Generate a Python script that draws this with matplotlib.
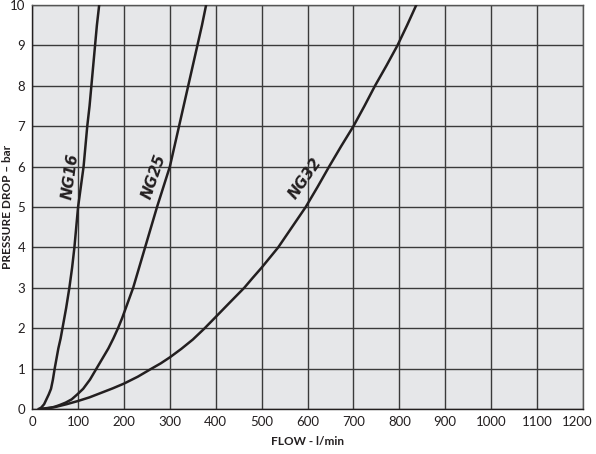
import matplotlib
matplotlib.use('Agg')
import matplotlib.pyplot as plt
import matplotlib.transforms as mtransforms
import numpy as np

plt.rcParams['font.family'] = ['Lato', 'DejaVu Sans']

# curves: flow (l/min) vs pressure drop (bar)
ng16_flow = [15, 20, 26, 31, 36, 41, 45, 49, 53, 57, 62, 66, 74, 81, 87, 92, 96, 100, 106, 112, 116, 120, 125, 129, 133, 137, 141, 146]
ng16_dp = [0, 0.04, 0.12, 0.24, 0.36, 0.5, 0.72, 1.0, 1.25, 1.5, 1.75, 2.0, 2.5, 3.0, 3.5, 4.0, 4.5, 5.0, 5.5, 6.0, 6.5, 7.0, 7.5, 8.0, 8.5, 9.0, 9.5, 10.0]

ng25_flow = [15, 28, 40, 50, 60, 73, 86, 98, 111, 126, 140, 153, 166, 177, 187, 196, 204, 212, 220, 233, 246, 259, 272, 286, 300, 310, 320, 330, 340, 350, 360, 370, 379]
ng25_dp = [0, 0.01, 0.03, 0.06, 0.1, 0.16, 0.24, 0.36, 0.5, 0.73, 1.0, 1.25, 1.5, 1.75, 2.0, 2.25, 2.5, 2.75, 3.0, 3.5, 4.0, 4.5, 5.0, 5.5, 6.0, 6.5, 7.0, 7.5, 8.0, 8.5, 9.0, 9.5, 10.0]

ng32_flow = [15, 30, 50, 75, 100, 125, 150, 175, 200, 230, 260, 280, 300, 325, 350, 375, 400, 430, 462, 480, 500, 536, 566, 596, 622, 647, 673, 700, 724, 747, 772, 796, 817, 837]
ng32_dp = [0, 0.02, 0.05, 0.12, 0.2, 0.29, 0.4, 0.51, 0.63, 0.8, 1.0, 1.13, 1.28, 1.49, 1.72, 1.99, 2.28, 2.63, 3.0, 3.24, 3.5, 4.0, 4.5, 5.0, 5.5, 6.0, 6.5, 7.0, 7.5, 8.0, 8.5, 9.0, 9.5, 10.0]

curve_names = ['NG16', 'NG25', 'NG32']
label_pos = [(84, 5.75), (265, 5.75), (595, 5.7)]
label_rot = [82, 71, 55]

fig = plt.figure(figsize=(5.96, 4.54), dpi=100)
ax = fig.add_axes([0.054, 0.099, 0.924, 0.890])
ax.set_facecolor('#e6e7e9')

line_col = '#231f20'
for fl, dp in [(ng16_flow, ng16_dp), (ng25_flow, ng25_dp), (ng32_flow, ng32_dp)]:
    ax.plot(fl, dp, color=line_col, lw=1.8, solid_joinstyle='round', zorder=3)

for name, (x, y), rot in zip(curve_names, label_pos, label_rot):
    ax.text(x, y, name, rotation=rot, ha='center', va='center', fontsize=11,
            fontweight='bold', fontstyle='oblique', color=line_col, zorder=4,
            family='DejaVu Sans')

ax.set_xlim(0, 1200)
ax.set_ylim(0, 10)
ax.set_xticks(np.arange(0, 1201, 100))
ax.set_yticks(np.arange(0, 11, 1))
ax.grid(True, color='#3a3a3a', lw=1.0)
ax.set_axisbelow(True)
ax.tick_params(length=0, labelsize=9.5, pad=5, colors='#231f20')
xl = ax.get_xticklabels()
xl[-1].set_transform(xl[-1].get_transform() +
                     mtransforms.ScaledTranslation(-4 / 72, 0, fig.dpi_scale_trans))
for s in ax.spines.values():
    s.set_color('#555555')
    s.set_linewidth(1.0)
ax.spines['bottom'].set_color('#231f20')
ax.spines['left'].set_color('#231f20')

ax.set_xlabel('FLOW - l/min', fontsize=8.5, fontweight='bold', color='#231f20', labelpad=6)
fig.text(8 / 596, 1 - 207 / 454, 'PRESSURE DROP – bar', rotation=90, ha='center', va='center',
         fontsize=8.5, fontweight='bold', color='#231f20')

fig.savefig('out.png', dpi=100)
